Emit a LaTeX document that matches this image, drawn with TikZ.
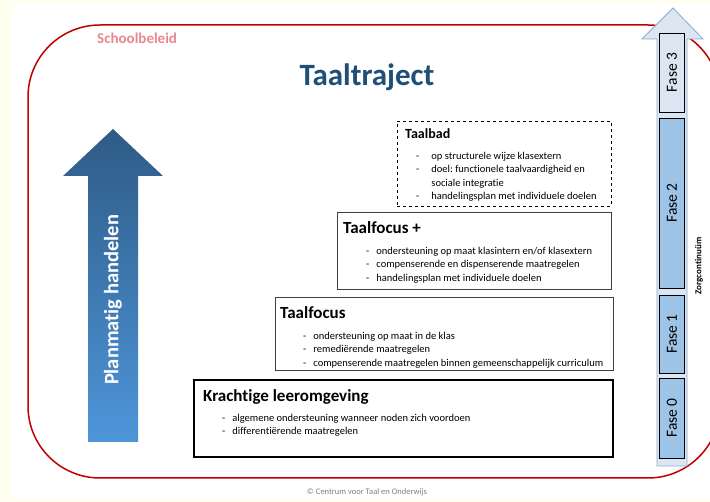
\documentclass[tikz,border=0pt]{standalone}
\usepackage{fontspec}
\setmainfont{Carlito}[Ligatures=NoCommon]
\frenchspacing
\usetikzlibrary{positioning}
\definecolor{achtergrond}{HTML}{FFFFF0}
\definecolor{beleidrood}{HTML}{C00000}
\definecolor{beleidtekst}{HTML}{E8888C}
\definecolor{titelblauw}{HTML}{1F4E79}
\definecolor{pijldonker}{HTML}{2E5B86}
\definecolor{pijllicht}{HTML}{4E96DA}
\definecolor{zorglicht}{HTML}{DCE6F3}
\definecolor{zorgrand}{HTML}{8EA9CB}
\definecolor{fasevol}{HTML}{9DC3E6}
\definecolor{kadergrijs}{HTML}{404040}
\newcommand{\opsom}[1]{\fontsize{10.5}{13.4}\selectfont\begin{tabular}{@{}l@{\hspace{#1}}l@{}}}

\begin{document}
\begin{tikzpicture}[x=1pt,y=-1pt,
		kader/.style={draw=kadergrijs,line width=0.9pt,inner sep=0pt},
		titel/.style={anchor=west,inner sep=0pt,font=\bfseries\fontsize{17}{20}\selectfont},
		lijst/.style={anchor=north west,inner sep=0pt,align=left},
		fasebox/.style={draw=black,line width=0.8pt,rotate=90,minimum height=25pt,inner sep=0pt,font=\fontsize{15.5}{17}\selectfont}]
		\useasboundingbox (0,0) rectangle (710,502);
		\fill[achtergrond] (0,0) rectangle (710,502);
		\fill[white] (11,4) rectangle (710,498);
		\begin{scope}
			\clip (0,0) rectangle (710,502);
			\draw[beleidrood,line width=1.5pt,rounded corners=72pt] (28,25) rectangle (720,478);
		\end{scope}

		\node[anchor=west,inner sep=0pt,text=beleidtekst,font=\bfseries\fontsize{15}{18}\selectfont] (beleid) at (97,38) {Schoolbeleid};
		\node[inner sep=0pt,text=titelblauw,font=\bfseries\fontsize{31}{36}\selectfont] (traject) at (367,77) {Taaltraject};

		\shade[top color=pijldonker,bottom color=pijllicht] (88,442) -- (88,176) -- (63,176) -- (113,129) -- (163,176) -- (138,176) -- (138,442) -- cycle;
		\node[rotate=90,inner sep=0pt,text=white,font=\bfseries\fontsize{20.5}{24}\selectfont] (plan) at (113,300) {Planmatig handelen};

		\draw[zorgrand,fill=zorglicht,line width=0.8pt] (657,466) -- (657,39) -- (642,39) -- (673,8) -- (703,39) -- (687,39) -- (687,466) -- cycle;
		\node[fasebox,fill=zorglicht,minimum width=79pt] (f3) at (672,72.5) {Fase 3};
		\node[fasebox,fill=fasevol,minimum width=170pt] (f2) at (672,203) {Fase 2};
		\node[fasebox,fill=fasevol,minimum width=78pt] (f1) at (672,334) {Fase 1};
		\node[fasebox,fill=fasevol,minimum width=80pt] (f0) at (672,418) {Fase 0};
		\node[rotate=90,inner sep=0pt,font=\bfseries\fontsize{9}{11}\selectfont] (zorg) at (699,266) {Zorgcontinuüm};

		\node[kader,draw=black,dashed,minimum width=214pt,minimum height=85pt] (bad) at (504,163.5) {};
		\node[titel,font=\bfseries\fontsize{14}{17}\selectfont] (badT) at (405,134) {Taalbad};
		\node[lijst] (badL) at (416,150) {\opsom{12pt}
			- & op structurele wijze klasextern\\
			- & doel: functionele taalvaardigheid en\\
			  & sociale integratie\\
			- & handelingsplan met individuele doelen
			\end{tabular}};

		\node[kader,minimum width=274pt,minimum height=77pt] (plus) at (474,250.5) {};
		\node[titel] (plusT) at (343,228) {Taalfocus +};
		\node[lijst] (plusL) at (366,245) {\opsom{7pt}
			- & ondersteuning op maat klasintern en/of klasextern\\
			- & compenserende en dispenserende maatregelen\\
			- & handelingsplan met individuele doelen
			\end{tabular}};

		\node[kader,minimum width=338pt,minimum height=73pt] (focus) at (444,333.5) {};
		\node[titel] (focusT) at (280,313) {Taalfocus};
		\node[lijst] (focusL) at (303,330) {\opsom{7pt}
			- & ondersteuning op maat in de klas\\
			- & remediërende maatregelen\\
			- & compenserende maatregelen binnen gemeenschappelijk curriculum
			\end{tabular}};

		\node[kader,draw=black,line width=2pt,minimum width=419pt,minimum height=77pt] (kracht) at (403.5,418.5) {};
		\node[titel] (krachtT) at (203,397) {Krachtige leeromgeving};
		\node[lijst] (krachtL) at (222,412) {\opsom{7pt}
			- & algemene ondersteuning wanneer noden zich voordoen\\
			- & differentiërende maatregelen
			\end{tabular}};

		\node[inner sep=0pt,text=gray,font=\fontsize{8.5}{10}\selectfont] (bron) at (367,492) {© Centrum voor Taal en Onderwijs};
	\end{tikzpicture}
\end{document}
